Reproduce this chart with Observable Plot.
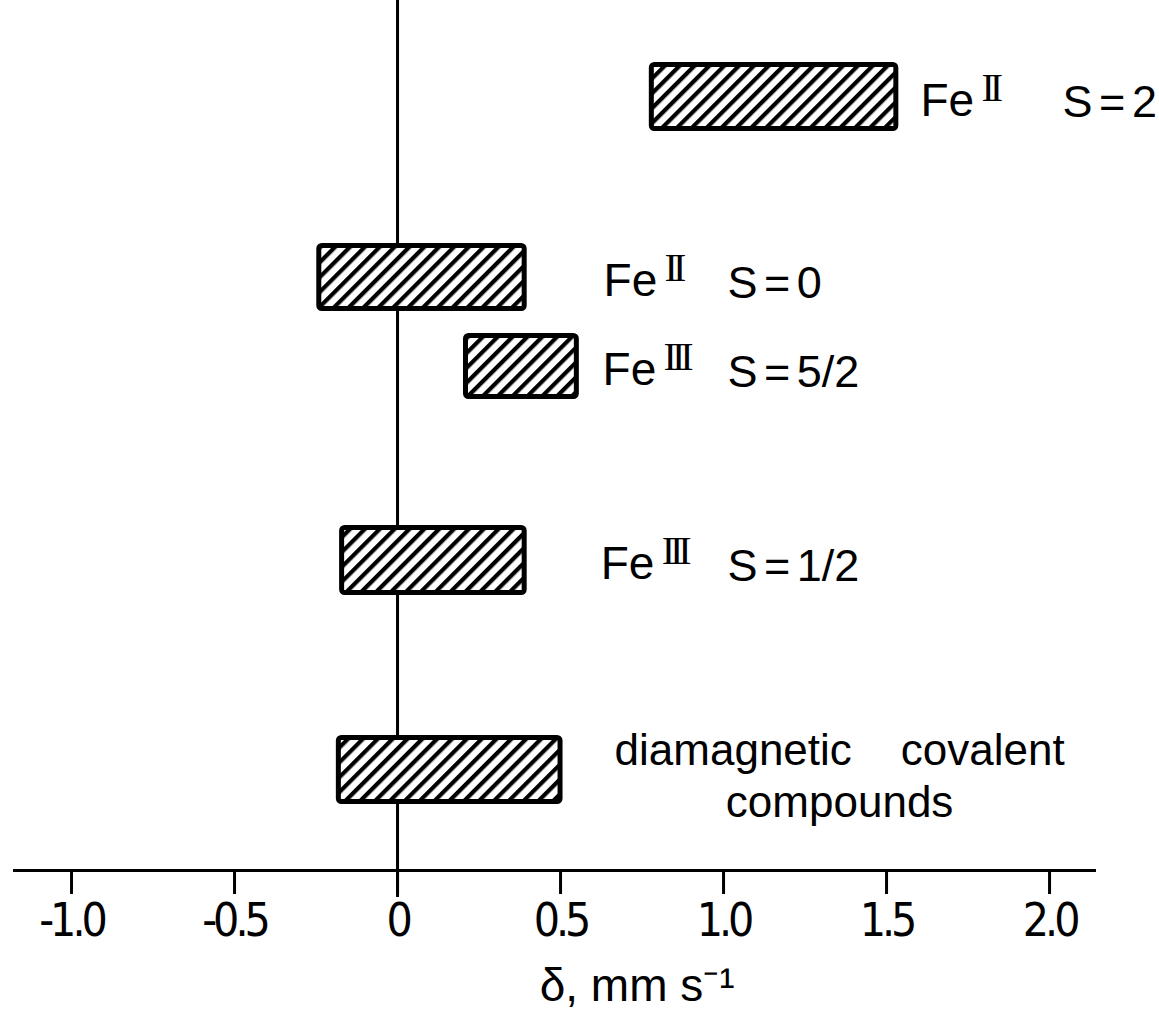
<!DOCTYPE html>
<html><head><meta charset="utf-8">
<script src="https://cdn.jsdelivr.net/npm/d3@7"></script>
<script src="https://cdn.jsdelivr.net/npm/@observablehq/plot@0.6"></script>
<style>
html,body{margin:0;padding:0;background:#fff;}
#chart svg{display:block;}
.tick-labels text{letter-spacing:-4px;}
.sup text{letter-spacing:-5px;}
.spin text{word-spacing:-6px;}
</style>
</head><body><div id="chart"></div>
<script>
// ---- data ----
const categories = ["FeII S=2", "FeII S=0", "FeIII S=5/2", "FeIII S=1/2", "diamagnetic covalent compounds"];
const deltaMin = [0.78, -0.24, 0.21, -0.17, -0.18];   // isomer shift range start (mm/s)
const deltaMax = [1.53, 0.39, 0.55, 0.39, 0.50];      // isomer shift range end (mm/s)
const rowTop = [6.45, 24.55, 33.55, 52.75, 73.75];    // vertical row extent (arbitrary row units, top = 0)
const rowBottom = [12.85, 30.85, 39.65, 59.25, 80.15];
const ionLabels = ["Fe", "Fe", "Fe", "Fe"];
const oxidationLabels = ["II", "II", "III", "III"];
const spinLabels = ["S = 2", "S = 0", "S = 5/2", "S = 1/2"];
const ionLabelX = [1.604, 0.632, 0.629, 0.623];
const spinLabelX = [2.04, 1.012, 1.012, 1.012];
const diamagneticLines = ["diamagnetic\u00a0\u00a0\u00a0\u00a0covalent", "compounds"];
const diamagneticLabelX = 1.356;
const tickValues = [-1.0, -0.5, 0, 0.5, 1.0, 1.5, 2.0];
const tickLabels = ["-1.0", "-0.5", "0", "0.5", "1.0", "1.5", "2.0"];
const axisLabel = "δ, mm s⁻¹";
const axisLabelX = [0.735];

const idx = categories.map((_, i) => i);
const lab = ionLabels.map((_, i) => i);
const mid = i => (rowTop[i] + rowBottom[i]) / 2;
const labelFont = "'Liberation Sans', Arimo, Arial, sans-serif";
const tickFont = "'DejaVu Sans Condensed', 'Liberation Sans Narrow', 'Liberation Sans', sans-serif";

const chart = Plot.plot({
  width: 1159,
  height: 1017,
  marginLeft: 13,
  marginRight: 63,
  marginTop: 0,
  marginBottom: 147,
  style: {background: "white", color: "black", fontFamily: labelFont},
  x: {domain: [-1.178, 2.144], axis: null},
  y: {domain: [0, 87], reverse: true, axis: null},
  marks: [
    Plot.ruleX([0], {y1: 0, y2: 89.7, stroke: "black", strokeWidth: 3}),
    Plot.ruleY([87], {stroke: "black", strokeWidth: 3}),
    Plot.axisX({
      ticks: tickValues,
      tickFormat: d => tickLabels[tickValues.indexOf(d)],
      tickSize: 24,
      tickPadding: 9,
      strokeWidth: 3,
      fontSize: 46,
      fontFamily: tickFont,
      className: "tick-labels",
      label: null
    }),
    Plot.rect(idx, {
      x1: i => deltaMin[i], x2: i => deltaMax[i],
      y1: i => rowTop[i], y2: i => rowBottom[i],
      fill: "url(#hatch)", stroke: "black", strokeWidth: 5, rx: 3
    }),
    Plot.text(lab, {
      x: i => ionLabelX[i], y: i => mid(i), text: i => ionLabels[i],
      textAnchor: "start", lineAnchor: "middle", dy: 4, fontSize: 46, fill: "black"
    }),
    Plot.text(lab, {
      x: i => ionLabelX[i], y: i => mid(i), text: i => oxidationLabels[i],
      textAnchor: "start", lineAnchor: "middle", dx: 61, dy: -9, fontSize: 40,
      fontFamily: "'Liberation Serif', 'DejaVu Serif', serif", fill: "black", className: "sup"
    }),
    Plot.text(lab, {
      x: i => spinLabelX[i], y: i => mid(i), text: i => spinLabels[i],
      textAnchor: "start", lineAnchor: "middle", dy: 6, fontSize: 45, fill: "black", className: "spin"
    }),
    Plot.text([0], {
      x: () => diamagneticLabelX, y: () => mid(4), text: () => diamagneticLines[0],
      textAnchor: "middle", lineAnchor: "middle", dy: -19, fontSize: 44, fill: "black"
    }),
    Plot.text([1], {
      x: () => diamagneticLabelX, y: () => mid(4), text: () => diamagneticLines[1],
      textAnchor: "middle", lineAnchor: "middle", dy: 33, fontSize: 44, fill: "black"
    }),
    Plot.text(axisLabelX, {
      x: d => d, y: () => 87, text: () => axisLabel,
      textAnchor: "middle", lineAnchor: "middle", dy: 116, fontSize: 46, fill: "black"
    })
  ]
});

const svg = d3.select(chart);
const defs = svg.insert("defs", ":first-child");
const pat = defs.append("pattern")
  .attr("id", "hatch")
  .attr("patternUnits", "userSpaceOnUse")
  .attr("width", 10.5).attr("height", 10.5)
  .attr("patternTransform", "rotate(45)");
pat.append("rect").attr("width", 10.5).attr("height", 10.5).attr("fill", "white");
pat.append("rect").attr("x", 0).attr("y", 0).attr("width", 4.2).attr("height", 10.5).attr("fill", "black");

document.getElementById("chart").appendChild(chart);
</script>
</body></html>
